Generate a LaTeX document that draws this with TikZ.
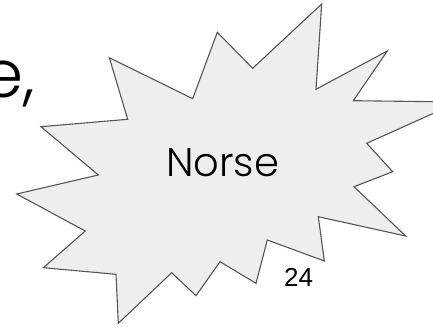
\documentclass[tikz,border=0pt]{standalone}
\usepackage{fontspec}
\setmainfont{Poppins}[UprightFont=* Light]
\newfontfamily\numfont{Liberation Sans}
\definecolor{starfill}{HTML}{EEEEEE}
\definecolor{starline}{HTML}{555555}
\begin{document}
\begin{tikzpicture}[x=1pt,y=-1pt,
  starshape/.style={fill=starfill,draw=starline,line width=1.1pt,line join=miter},
  bigtext/.style={font=\fontsize{40}{40}\selectfont,text=black,inner sep=0pt},
  pagenum/.style={font=\numfont\fontsize{26}{26}\selectfont,text=black,inner sep=0pt}]
\useasboundingbox (0,0) rectangle (433,328);
\clip (0,0) rectangle (433,328);
\draw[starshape] (321.7,4) -- (316,89.3) -- (387.3,51) -- (353.3,100.7) -- (458.6,102)
  -- (366.7,143.3) -- (392.7,171.7) -- (354,186.7) -- (405.7,236) -- (318.3,216.7)
  -- (324.3,261) -- (267.3,240) -- (256,283.3) -- (220,261.7) -- (196,295.7)
  -- (171.7,272.7) -- (118.3,323.3) -- (116,274.3) -- (43.3,267.7) -- (85.3,231)
  -- (16.7,194) -- (98.3,175) -- (41,126.7) -- (127.7,119.3) -- (109.3,57.7)
  -- (192.7,98.7) -- (217.3,32.3) -- (252.7,68.3) -- cycle;
\node[bigtext,anchor=base] (norse) at (222.5,176.5) {Norse};
\node[pagenum,anchor=base] (num) at (298.5,286.7) {24};
\node[font=\fontsize{66}{66}\selectfont,inner sep=0pt,anchor=base east] (frag) at (35,98) {e,};
\end{tikzpicture}
\end{document}
